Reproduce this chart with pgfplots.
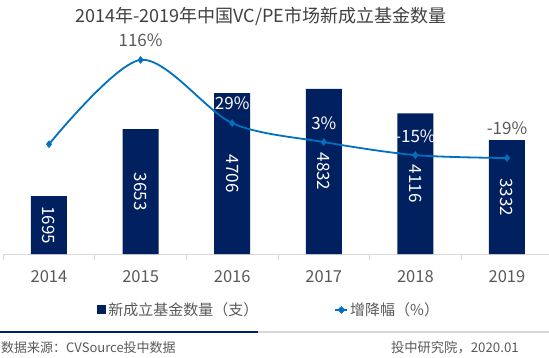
\documentclass[border=0pt]{standalone}
\usepackage{pgfplots}
\pgfplotsset{compat=1.18}
\usepackage{fontspec}
\setmainfont{Noto Sans CJK SC}
\definecolor{navy}{HTML}{002060}
\definecolor{lineblue}{HTML}{0070C0}
\definecolor{txt}{HTML}{595959}
\definecolor{ttl}{HTML}{404040}
\definecolor{axgray}{HTML}{D9D9D9}
\begin{document}
\begin{tikzpicture}
\useasboundingbox (0,0) rectangle (549pt,357pt);
\begin{axis}[
  at={(3.2pt,103pt)}, anchor=south west,
  width=549.6pt, height=205pt, scale only axis,
  xmin=-0.5, xmax=5.5, ymin=0, ymax=6000,
  axis x line*=bottom, hide y axis,
  x axis line style={axgray, line width=0.8pt, -},
  xtick={0,1,2,3,4,5}, xticklabels={2014,2015,2016,2017,2018,2019},
  major tick length=0pt,
  minor xtick={-0.5,0.5,1.5,2.5,3.5,4.5,5.5}, minor tick length=6pt,
  tick align=outside,
  minor tick style={axgray, line width=0.8pt},
  /pgf/number format/assume math mode=true,
  xticklabel style={anchor=center, yshift=-23pt, font=\fontsize{16.5}{18}\selectfont, text=txt},
  legend style={at={(0.484,-0.273)}, anchor=center, draw=none, fill=none,
    font=\fontsize{15}{17}\selectfont, text=txt, legend columns=2,
    /tikz/every even column/.append style={column sep=74pt}},
  legend cell align=left,
]
\addplot[ybar, bar width=36pt, fill=navy, draw=none,
  legend image code/.code={\fill[navy] (0pt,-4.5pt) rectangle (9pt,4.5pt);}]
  coordinates {(0,1695)(1,3653)(2,4706)(3,4832)(4,4116)(5,3332)};
\addlegendentry{新成立基金数量（支）}
\addplot[draw=none, forget plot, nodes near coords, point meta=explicit symbolic,
  every node near coord/.append style={anchor=center, rotate=-90, text=white, font=\fontsize{17}{19}\selectfont}]
  coordinates {(0,847.5)[1695] (1,1826.5)[3653] (2,2353)[4706] (3,2416)[4832] (4,2058)[4116] (5,1666)[3332]};
\addlegendimage{legend image code/.code={\draw[lineblue, line width=1.8pt] (-1pt,0pt) -- (11pt,0pt); \fill[lineblue] (5pt,3.5pt) -- (8.5pt,0pt) -- (5pt,-3.5pt) -- (1.5pt,0pt) -- cycle;}}
\addlegendentry{增降幅（\%）}
\end{axis}
\begin{axis}[
  at={(3.2pt,103pt)}, anchor=south west,
  width=549.6pt, height=205pt, scale only axis,
  xmin=-0.5, xmax=5.5, ymin=-151, ymax=131, hide axis, clip=false,
]
\addplot[lineblue, line width=1.8pt, smooth, tension=0.5, mark=diamond*, mark size=3.5pt,
  mark options={solid, fill=lineblue, line width=0.5pt}]
  coordinates {(0,0)(1,116)(2,29)(3,3)(4,-15)(5,-19)};
\node[text=txt, font=\fontsize{17}{19}\selectfont] at (axis cs:1,116) [yshift=20pt] {116\%};
\node[text=white, font=\fontsize{17}{19}\selectfont] at (axis cs:2,29) [yshift=20pt] {29\%};
\node[text=white, font=\fontsize{17}{19}\selectfont] at (axis cs:3,3) [yshift=19pt] {3\%};
\node[text=white, font=\fontsize{17}{19}\selectfont] at (axis cs:4,-15) [yshift=19pt] {-15\%};
\node[text=txt, font=\fontsize{17}{19}\selectfont] at (axis cs:5,-19) [yshift=30pt] {-19\%};
\end{axis}
\node[text=ttl, font=\fontsize{18}{20}\selectfont] at (261pt,341pt) {2014年-2019年中国VC/PE市场新成立基金数量};
\draw[navy, line width=2pt] (0,25pt) -- (258pt,25pt);
\draw[axgray, line width=1.5pt] (258pt,25pt) -- (549pt,25pt);
\node[anchor=west, inner sep=0pt, text=txt, font=\fontsize{13}{15}\selectfont] at (1pt,9pt) {数据来源：CVSource投中数据};
\node[anchor=east, inner sep=0pt, text=txt, font=\fontsize{13.3}{15}\selectfont] at (519pt,9pt) {投中研究院，2020.01};
\end{tikzpicture}
\end{document}
